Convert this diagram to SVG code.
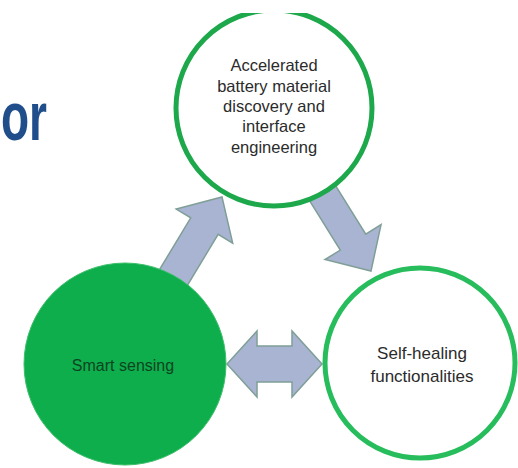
<svg xmlns="http://www.w3.org/2000/svg" width="518" height="468" viewBox="0 0 518 468">
  <style>
    .arrow { fill: #a9b4d3; stroke: #7f9f96; stroke-width: 1.5; stroke-linejoin: miter; }
    .lbl { font-family: "Liberation Sans", Arial, sans-serif; fill: #2b2b2b; text-anchor: middle; }
    .title { font-family: "Liberation Sans", Arial, sans-serif; font-weight: bold; fill: #1f4e8a; }
  </style>
  <defs>
    <clipPath id="topclip">
      <rect x="0" y="13" width="518" height="455"/>
    </clipPath>
  </defs>
  <rect x="0" y="0" width="518" height="468" fill="#ffffff"/>

  <text class="title" x="1" y="140" font-size="68" textLength="46" lengthAdjust="spacingAndGlyphs">or</text>

  <g id="connectors">
    <polygon class="arrow" transform="translate(222,197) rotate(-58.9)" points="-110,-16 -34,-16 -34,-33 0,0 -34,33 -34,16 -110,16"/>
    <polygon class="arrow" transform="translate(371,271) rotate(58.1)" points="-110,-15 -34,-15 -34,-33 0,0 -34,33 -34,15 -110,15"/>
    <polygon class="arrow" points="227,364 257,331 257,346 292,346 292,331 322,364 292,397 292,382 257,382 257,397"/>
  </g>

  <g id="node-discovery" clip-path="url(#topclip)">
    <circle cx="274" cy="108" r="98" fill="#ffffff" stroke="#1da84b" stroke-width="5"/>
    <text class="lbl" font-size="16.5" x="274" y="71">Accelerated</text>
    <text class="lbl" font-size="16.5" x="274" y="92">battery material</text>
    <text class="lbl" font-size="16.5" x="274" y="112">discovery and</text>
    <text class="lbl" font-size="16.5" x="274" y="132">interface</text>
    <text class="lbl" font-size="16.5" x="274" y="153">engineering</text>
  </g>

  <g id="node-sensing">
    <circle cx="125" cy="364" r="101" fill="#0eae4c" stroke="#3cbf6a" stroke-width="1"/>
    <text class="lbl" font-size="16" x="123" y="371" style="fill:#0d4420">Smart sensing</text>
  </g>

  <g id="node-healing">
    <circle cx="420" cy="363" r="95" fill="#ffffff" stroke="#27bd5c" stroke-width="5"/>
    <text class="lbl" font-size="17" x="422" y="359">Self-healing</text>
    <text class="lbl" font-size="17" x="422" y="382">functionalities</text>
  </g>
</svg>
